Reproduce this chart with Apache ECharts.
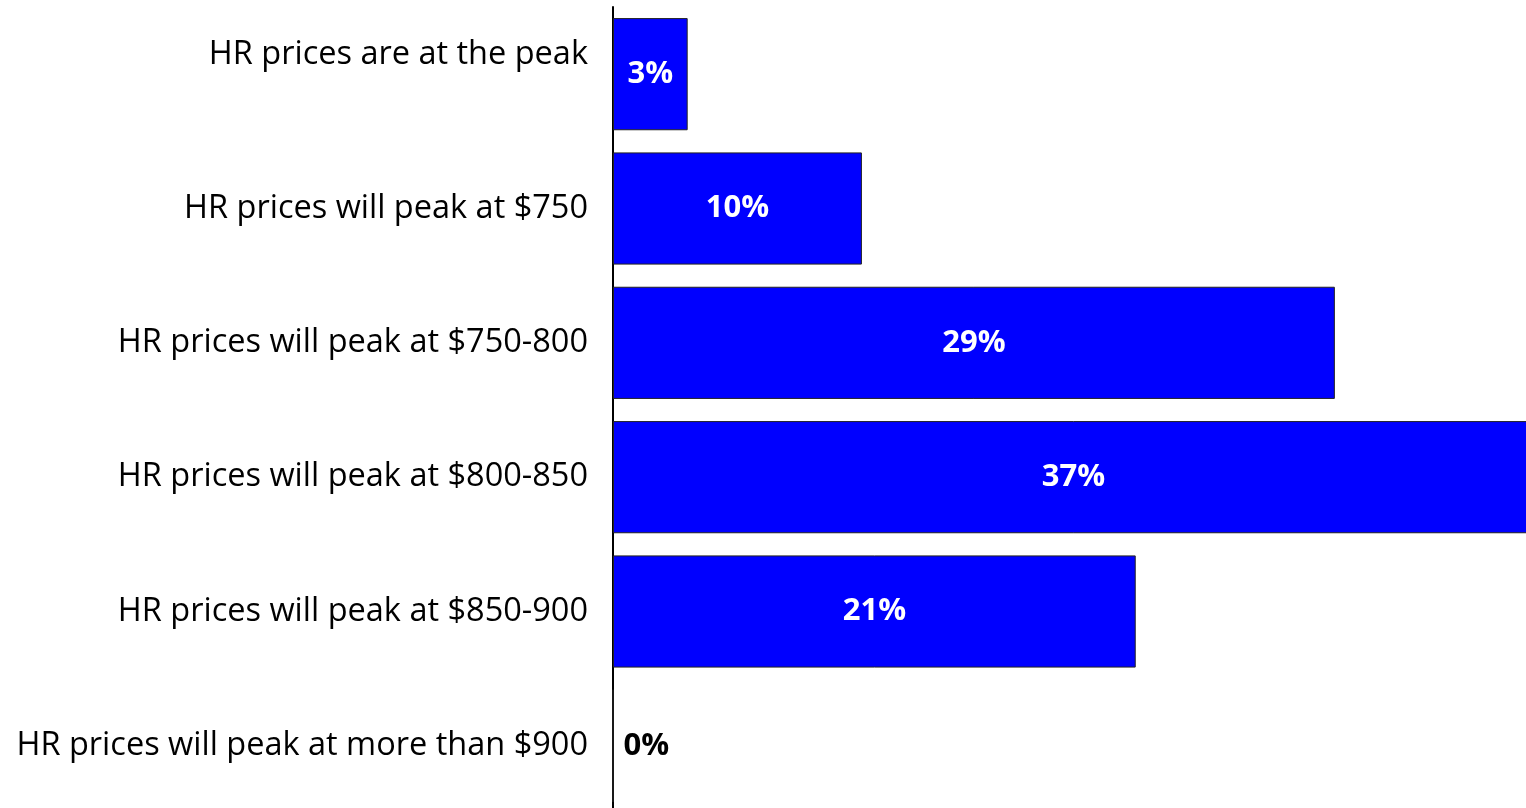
<!DOCTYPE html>
<html><head><meta charset="utf-8">
<script src="https://cdn.jsdelivr.net/npm/echarts@6/dist/echarts.min.js"></script>
<style>html,body{margin:0;padding:0;background:#fff;overflow:hidden}#c{width:1534px;height:813px}</style>
</head><body><div id="c"></div>
<script>
const categories = [
  "HR prices are at the peak",
  "HR prices will peak at $750",
  "HR prices will peak at $750-800",
  "HR prices will peak at $800-850",
  "HR prices will peak at $850-900",
  "HR prices will peak at more than $900"
];
const values = [3, 10, 29, 37, 21, 0];

const FONT = '"Open Sans", Lato, sans-serif';
const chart = echarts.init(document.getElementById('c'));
chart.setOption({
  animation: false,
  grid: { left: 613, right: 0, top: 7, bottom: 0, containLabel: false },
  xAxis: { type: 'value', min: 0, max: 37, show: false },
  yAxis: {
    type: 'category', inverse: true,
    data: categories,
    axisLine: { lineStyle: { color: '#000', width: 2 } },
    axisTick: { show: false },
    axisLabel: {
      color: '#000', fontSize: 32.5, fontFamily: FONT, margin: 25,
      formatter: (v, i) => i === 0 ? '{up|' + v + '}' : v,
      rich: { up: { fontSize: 32.5, fontFamily: FONT, color: '#000', padding: [0, 0, 38, 0] } }
    }
  },
  series: [{
    type: 'bar',
    barCategoryGap: '16.5%',
    data: values.map(v => v === 0
      ? { value: v, label: { position: 'right', color: '#000', distance: 10 } }
      : v),
    itemStyle: { color: '#0000FF', borderColor: '#222', borderWidth: 1 },
    label: {
      show: true, position: 'inside', color: '#fff', fontWeight: 'bold', fontSize: 31,
      fontFamily: FONT,
      formatter: p => Math.round(p.value) + '%'
    }
  }]
});
</script></body></html>
